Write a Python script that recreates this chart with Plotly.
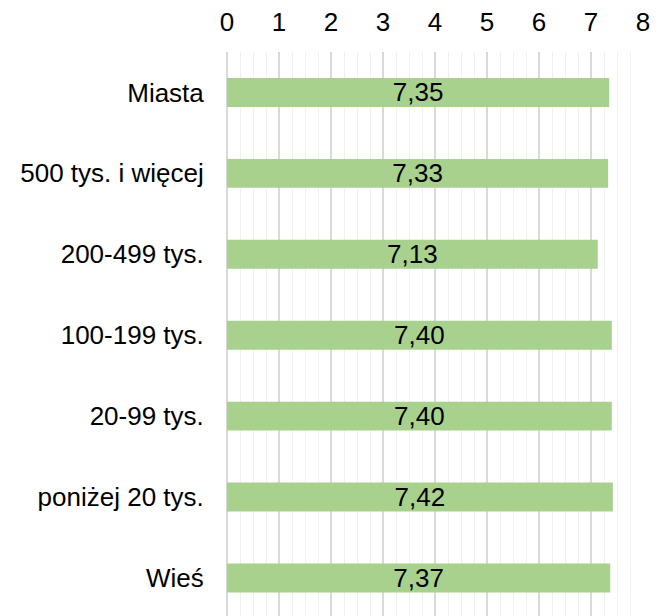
import plotly.graph_objects as go

categories = ["Miasta", "500 tys. i więcej", "200-499 tys.", "100-199 tys.",
              "20-99 tys.", "poniżej 20 tys.", "Wieś"]
values = [7.35, 7.33, 7.13, 7.40, 7.40, 7.42, 7.37]
x_ticks = [0, 1, 2, 3, 4, 5, 6, 7, 8]

labels = [f"{v:.2f}".replace(".", ",") for v in values]

FONT = "Arial, Liberation Sans, sans-serif"
FS = 26

fig = go.Figure(go.Bar(
    x=values, y=categories, orientation="h",
    marker=dict(color="#A9D18E", line=dict(width=0)),
    width=0.358,
    text=labels, textposition="inside", insidetextanchor="middle",
    constraintext="none",
    textfont=dict(family=FONT, size=FS, color="black"),
    hoverinfo="skip",
))

# page body has an 8px default margin, so the figure is 8px smaller
fig.update_layout(
    width=652, height=608,
    margin=dict(l=219, r=17, t=44, b=0),
    paper_bgcolor="white", plot_bgcolor="white",
    showlegend=False,
    font=dict(family=FONT, size=FS, color="black"),
)
fig.update_xaxes(
    side="top", range=[0, 8], tickvals=x_ticks, automargin=False,
    showgrid=True, gridcolor="#D9D9D9", gridwidth=1.5,
    minor=dict(dtick=0.25, showgrid=True, gridcolor="#F0F0F0", gridwidth=1),
    zeroline=True, zerolinecolor="#D9D9D9", zerolinewidth=1.5,
    showline=False, ticks="outside", ticklen=10, tickcolor="rgba(0,0,0,0)",
    tickfont=dict(family=FONT, size=FS, color="black"),
    fixedrange=True,
)
fig.update_yaxes(
    type="category", categoryorder="array", categoryarray=categories,
    range=[6.47, -0.5], automargin=False,
    showgrid=False, zeroline=False, showline=False,
    ticks="outside", ticklen=17, tickcolor="rgba(0,0,0,0)",
    tickfont=dict(family=FONT, size=FS, color="black"),
    fixedrange=True,
)

fig.write_html("out.html")
